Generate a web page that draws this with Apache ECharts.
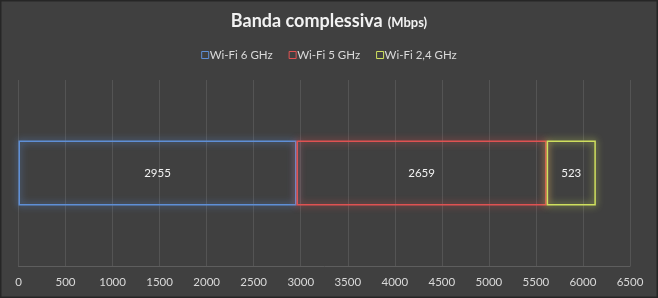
<!DOCTYPE html>
<html><head><meta charset="utf-8">
<script src="https://cdn.jsdelivr.net/npm/echarts@6/dist/echarts.min.js"></script>
<style>html,body{margin:0;padding:0;background:#404040;}#c{width:658px;height:298px;}</style>
</head><body><div id="c"></div>
<script>
const categories = ['Banda'];
const seriesNames = ['Wi-Fi 6 GHz', 'Wi-Fi 5 GHz', 'Wi-Fi 2,4 GHz'];
const wifi6 = [2955];
const wifi5 = [2659];
const wifi24 = [523];
const colors = ['#5f8fd6', '#e05252', '#cfe05e'];
const values = [wifi6, wifi5, wifi24];

const chart = echarts.init(document.getElementById('c'));
chart.setOption({
  backgroundColor: '#404040',
  animation: false,
  title: {
    text: '{a|Banda complessiva} {b|(Mbps)}',
    left: 'center', top: 7,
    textStyle: {
      rich: {
        a: { fontFamily: 'Lato', fontWeight: 'bold', fontSize: 18, color: '#f2f2f2' },
        b: { fontFamily: 'Lato', fontWeight: 'bold', fontSize: 13, color: '#f2f2f2', padding: [3, 0, 0, 0] }
      }
    }
  },
  legend: {
    top: 44, left: 'center',
    itemWidth: 7, itemHeight: 7, itemGap: 16,
    icon: 'rect',
    itemStyle: { borderWidth: 1 },
    textStyle: { color: '#d9d9d9', fontFamily: 'Lato', fontSize: 11.5, padding: [0, 0, 0, -4] },
    data: seriesNames
  },
  grid: { left: 18.5, right: 28, top: 80, bottom: 32, outerBoundsMode: 'none' },
  xAxis: {
    type: 'value', min: 0, max: 6500, interval: 500,
    axisLine: { show: true, lineStyle: { color: '#5e5e5e' } },
    axisTick: { show: false },
    splitLine: { show: true, lineStyle: { color: '#545454' } },
    axisLabel: { color: '#d9d9d9', fontFamily: 'Lato', fontSize: 11.5, margin: 10, formatter: v => String(v) }
  },
  yAxis: {
    type: 'category', data: categories,
    axisLine: { show: false }, axisTick: { show: false }, axisLabel: { show: false }
  },
  series: seriesNames.map((n, i) => ({
    name: n, type: 'bar', stack: 'tot', barWidth: 65,
    data: values[i],
    itemStyle: {
      color: 'rgba(64,64,64,0)', borderColor: colors[i], borderWidth: 1.5,
      shadowBlur: 7, shadowColor: colors[i]
    },
    label: { show: true, position: 'inside', color: '#f2f2f2', fontFamily: 'Lato', fontSize: 11.5 }
  })),
  graphic: [{
    type: 'rect', silent: true, z: 100,
    shape: { x: 0, y: 0, width: 658, height: 298 },
    style: { fill: 'none', stroke: '#262626', lineWidth: 3 }
  }]
});
</script></body></html>
